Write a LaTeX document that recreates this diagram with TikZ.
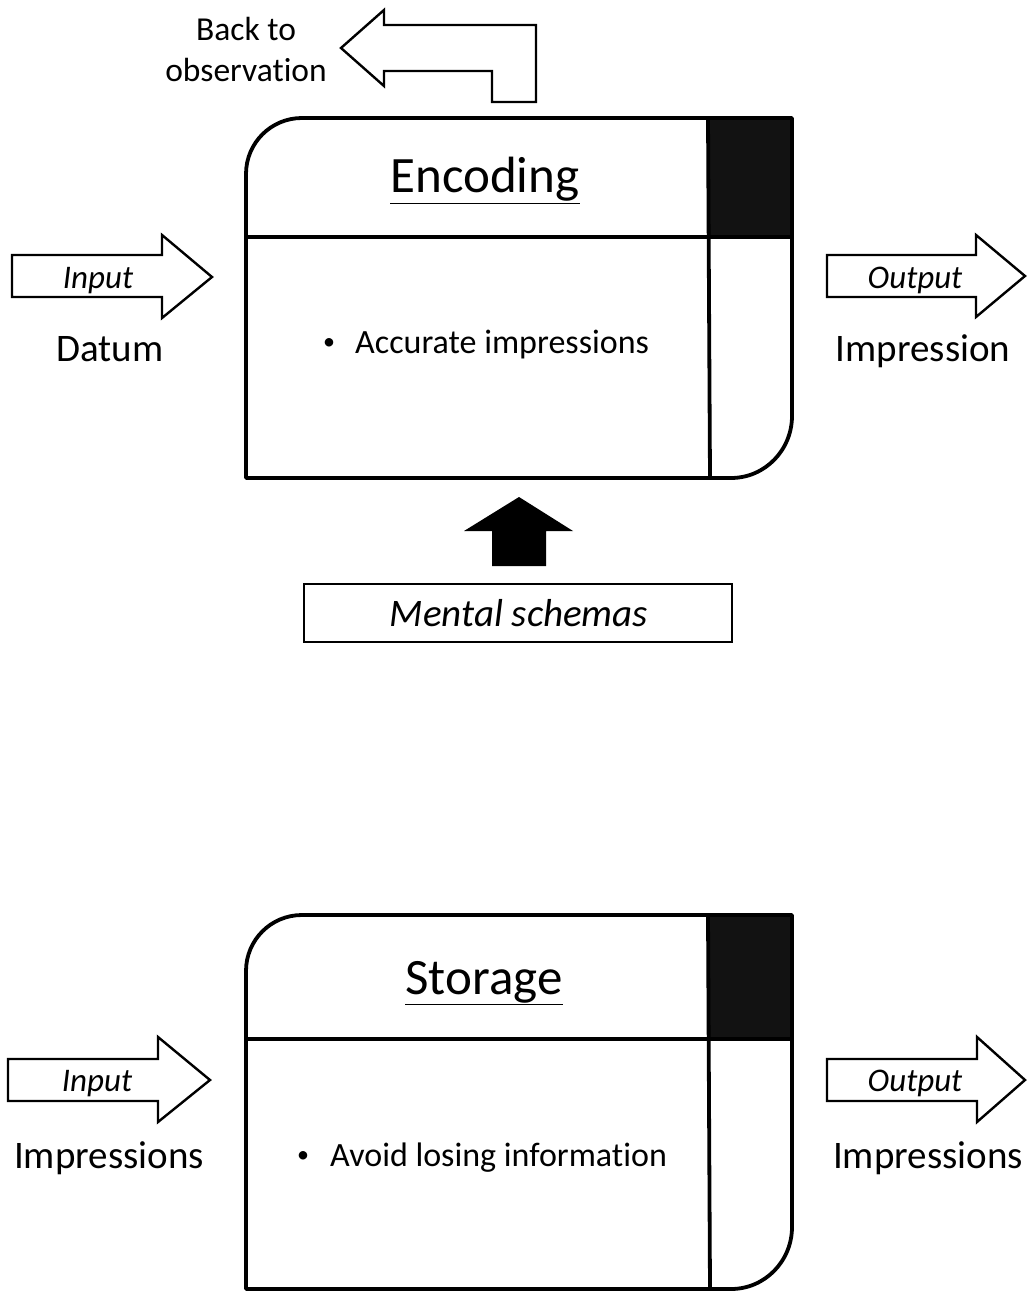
\documentclass[tikz,border=0pt]{standalone}
\usepackage{fontspec}
\setmainfont{Carlito}[Ligatures=NoCommon]
\begin{document}
\begin{tikzpicture}[x=1pt,y=-1pt,
  boxline/.style={line width=3.8pt,line join=round},
  blockarrow/.style={draw=black,line width=2.4pt,fill=white,line join=miter},
  title/.style={font=\fontsize{51}{60}\selectfont,anchor=base},
  bodytext/.style={font=\fontsize{34}{40}\selectfont,anchor=base west,inner sep=0pt},
  bulletmark/.style={font=\fontsize{24}{28}\selectfont,anchor=base},
  flowlabel/.style={font=\fontsize{39}{46}\selectfont,anchor=base},
  arrowlabel/.style={font=\fontsize{33}{40}\selectfont\itshape,anchor=base},
]
\useasboundingbox (0,0) rectangle (1028,1292);

% ---------------- Encoding stage ----------------
\fill[black!93] (708,118) rectangle (792,237);
\draw[boxline] (246,478) -- (246,174) .. controls (246,143) and (271,118) .. (302,118)
  -- (792,118) -- (792,416) .. controls (792,450) and (765,478) .. (731,478) -- cycle;
\draw[boxline] (246,237) -- (792,237);
\draw[boxline] (708,118) -- (710,478);
\node[title] (enctitle) at (485,193) {\underline{Encoding}};
\node[bulletmark] (encbullet) at (329,349) {\textbullet};
\node[bodytext] (encitem) at (355,353) {Accurate impressions};

% input arrow
\draw[blockarrow] (12,255) -- (162,255) -- (162,235) -- (212,277) -- (162,318)
  -- (162,297) -- (12,297) -- cycle;
\node[arrowlabel] (encin) at (98,288) {Input};
\node[flowlabel] (encinlabel) at (110,361) {Datum};

% output arrow
\draw[blockarrow] (827,255) -- (976,255) -- (976,235) -- (1025,276) -- (976,317)
  -- (976,297) -- (827,297) -- cycle;
\node[arrowlabel] (encout) at (915,288) {Output};
\node[flowlabel] (encoutlabel) at (923,361) {Impression};

% feedback arrow
\draw[blockarrow] (341,48) -- (384,10) -- (384,25) -- (536,25) -- (536,102)
  -- (492,102) -- (492,71) -- (384,71) -- (384,86) -- cycle;
\node[font=\fontsize{33.5}{41}\selectfont,align=center] (back) at (246,49)
  {Back to\\observation};

% schemas feeding the stage
\fill[black] (519,497) -- (573,531) -- (546,531) -- (546,566) -- (492,566)
  -- (492,531) -- (464,531) -- cycle;
\node[draw,line width=2.4pt,minimum width=428pt,minimum height=58pt,inner sep=0pt]
  (schemabox) at (518,613) {};
\node[font=\fontsize{39}{46}\selectfont\itshape,anchor=base] (schemas) at (519,626)
  {Mental schemas};

% ---------------- Storage stage ----------------
\fill[black!93] (708,915) rectangle (792,1039);
\draw[boxline] (246,1289) -- (246,971) .. controls (246,940) and (271,915) .. (302,915)
  -- (792,915) -- (792,1227) .. controls (792,1261) and (765,1289) .. (731,1289) -- cycle;
\draw[boxline] (246,1039) -- (792,1039);
\draw[boxline] (708,915) -- (710,1289);
\node[title] (sttitle) at (484,994) {\underline{Storage}};
\node[bulletmark] (stbullet) at (303,1162) {\textbullet};
\node[bodytext] (stitem) at (330,1166) {Avoid losing information};

\draw[blockarrow] (8,1059) -- (158,1059) -- (158,1037) -- (210,1080) -- (158,1122)
  -- (158,1101) -- (8,1101) -- cycle;
\node[arrowlabel] (stin) at (97,1091) {Input};
\node[flowlabel] (stinlabel) at (109,1168) {Impressions};

\draw[blockarrow] (827,1059) -- (977,1059) -- (977,1037) -- (1025,1080) -- (977,1122)
  -- (977,1101) -- (827,1101) -- cycle;
\node[arrowlabel] (stout) at (915,1091) {Output};
\node[flowlabel] (stoutlabel) at (928,1168) {Impressions};
\end{tikzpicture}
\end{document}
